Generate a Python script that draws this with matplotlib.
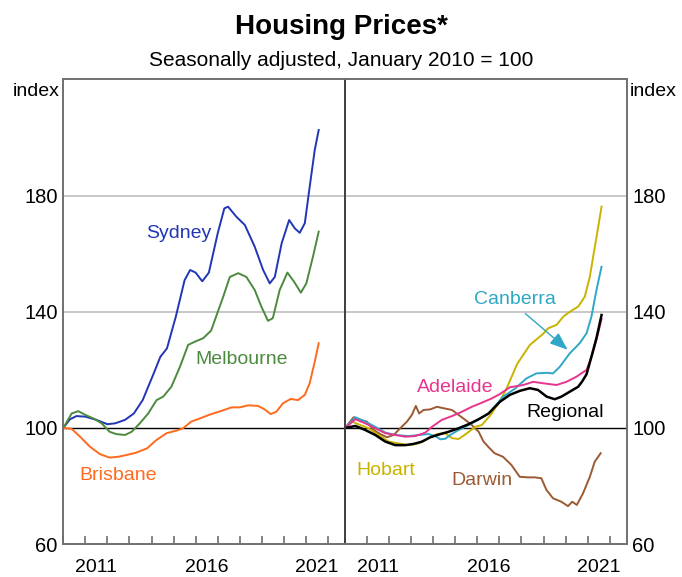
import matplotlib
matplotlib.use('Agg')
import matplotlib.pyplot as plt

plt.rcParams['font.family'] = ['Liberation Sans', 'DejaVu Sans']

# ---- data (index Jan 2010 = 100) ----
syd_x = [2010.0, 2010.3, 2010.6, 2011.0, 2011.5, 2012.0, 2012.35, 2012.8, 2013.2, 2013.6,
         2014.1, 2014.4, 2014.7, 2015.1, 2015.5, 2015.75, 2016.0, 2016.3, 2016.6, 2017.0,
         2017.3, 2017.47, 2017.85, 2018.23, 2018.68, 2019.06, 2019.36, 2019.59, 2019.9,
         2020.24, 2020.5, 2020.72, 2020.95, 2021.17, 2021.4, 2021.58]
syd_y = [100, 103, 104.1, 103.9, 102.8, 101.3, 101.6, 102.8, 105, 109.6,
         118.8, 124.5, 127.4, 138.3, 150.9, 154.4, 153.5, 150.5, 153.5, 167,
         175.6, 176.2, 172.7, 169.9, 162.4, 154.4, 149.8, 152, 163.6,
         171.6, 168.7, 167.2, 170.5, 183, 195.7, 202.6]

mel_x = [2010.0, 2010.38, 2010.68, 2011.0, 2011.36, 2011.74, 2012.1, 2012.4, 2012.8, 2013.1,
         2013.47, 2013.85, 2014.23, 2014.53, 2014.9, 2015.29, 2015.66, 2015.96, 2016.34, 2016.7,
         2017.25, 2017.55, 2017.93, 2018.3, 2018.68, 2018.98, 2019.28, 2019.5, 2019.81,
         2020.16, 2020.46, 2020.77, 2021.02, 2021.32, 2021.58]
mel_y = [100, 105, 105.8, 104.5, 103.3, 101.6, 98.7, 97.9, 97.6, 98.7,
         101.6, 105, 109.6, 110.8, 114.2, 121.1, 128.6, 129.7, 130.9, 133.5,
         145.2, 152, 153.3, 152, 147.5, 141.8, 136.9, 137.8, 147.5,
         153.5, 150.4, 146.6, 149.8, 159, 167.6]

bne_x = [2010.0, 2010.38, 2010.76, 2011.2, 2011.66, 2012.1, 2012.5, 2012.87, 2013.3, 2013.8,
         2014.23, 2014.68, 2015.13, 2015.43, 2015.8, 2016.2, 2016.6, 2017.17, 2017.63, 2018.0,
         2018.38, 2018.83, 2019.13, 2019.4, 2019.66, 2019.96, 2020.31, 2020.64, 2020.95,
         2021.17, 2021.4, 2021.58]
bne_y = [100, 99.7, 97, 93.6, 91, 89.8, 90.1, 90.7, 91.5, 93,
         95.9, 98.2, 99.1, 99.9, 102.2, 103.3, 104.5, 105.9, 107.1, 107.1,
         107.8, 107.6, 106.4, 104.8, 105.6, 108.5, 110, 109.6, 111.4,
         115.4, 122.8, 129.2]

reg_x = [2010.0, 2010.47, 2010.92, 2011.37, 2011.83, 2012.28, 2012.73, 2013.1, 2013.49, 2013.86,
         2014.32, 2014.7, 2015.15, 2015.6, 2016.06, 2016.51, 2017.02, 2017.47, 2017.93, 2018.38,
         2018.75, 2019.14, 2019.51, 2019.81, 2020.19, 2020.57, 2020.75, 2020.95, 2021.17,
         2021.4, 2021.63]
reg_y = [100, 100.7, 99.3, 97.6, 95.3, 94.1, 94.1, 94.5, 95.3, 96.8,
         97.9, 98.7, 99.9, 101.3, 103, 105, 109, 111.4, 112.8, 113.7,
         113.1, 110.8, 109.9, 110.8, 112.5, 114.2, 116, 118.5, 124.5,
         131, 138.9]

adl_x = [2010.0, 2010.47, 2010.92, 2011.37, 2011.83, 2012.28, 2012.73, 2013.18, 2013.64, 2013.94,
         2014.39, 2014.85, 2015.3, 2015.75, 2016.2, 2016.66, 2017.0, 2017.47, 2018.08, 2018.53,
         2018.98, 2019.59, 2020.04, 2020.5, 2020.95, 2021.2, 2021.42, 2021.63]
adl_y = [100, 103, 101.6, 99.9, 98.2, 97.6, 97, 97.2, 98.4, 100.4,
         102.8, 104.1, 105.6, 107.3, 108.7, 110.2, 111.6, 114, 114.8, 115.9,
         115.4, 114.8, 115.9, 117.7, 120, 125, 131, 137.5]

cbr_x = [2010.0, 2010.47, 2010.92, 2011.37, 2011.83, 2012.28, 2012.88, 2013.34, 2013.79, 2014.09,
         2014.32, 2014.55, 2014.77, 2015.15, 2015.6, 2016.06, 2016.51, 2017.17, 2017.7, 2018.23,
         2018.68, 2019.14, 2019.43, 2019.74, 2020.19, 2020.64, 2020.95, 2021.17, 2021.4, 2021.63]
cbr_y = [100, 103.7, 102.2, 100.4, 98.4, 97.6, 97.2, 97.6, 97.9, 97.2,
         96.1, 96.3, 97.6, 99.3, 101, 103, 105, 110.8, 113.5, 117.1,
         118.8, 119, 118.8, 121.1, 125.7, 129.2, 132.6, 138.3, 147.5, 155.5]

hob_x = [2010.0, 2010.32, 2010.69, 2011.07, 2011.52, 2011.98, 2012.43, 2012.88, 2013.34, 2013.79,
         2014.17, 2014.54, 2014.85, 2015.15, 2015.53, 2015.9, 2016.2, 2016.6, 2017.0, 2017.32,
         2017.8, 2018.38, 2018.98, 2019.2, 2019.59, 2019.89, 2020.19, 2020.57, 2020.87,
         2021.1, 2021.25, 2021.43, 2021.63]
hob_y = [100, 102.2, 101, 99.9, 97.6, 95.3, 94.7, 94.1, 94.7, 96.5,
         97.9, 98.2, 96.5, 96.2, 98.2, 100.4, 101, 104.5, 109, 113.5,
         122, 128.6, 132.4, 134.3, 135.5, 138.3, 140, 141.8, 145.2,
         152.1, 159, 167, 176.2]

drw_x = [2010.0, 2010.39, 2010.69, 2010.99, 2011.3, 2011.6, 2011.9, 2012.21, 2012.5, 2012.81,
         2013.03, 2013.21, 2013.36, 2013.56, 2013.86, 2014.17, 2014.47, 2014.85, 2015.15, 2015.45,
         2015.75, 2016.06, 2016.28, 2016.51, 2016.78, 2017.16, 2017.54, 2017.92, 2018.3, 2018.6,
         2018.9, 2019.13, 2019.43, 2019.81, 2020.11, 2020.3, 2020.51, 2020.79, 2021.1, 2021.32,
         2021.59]
drw_y = [100, 103.7, 102.8, 102.2, 99.3, 97.9, 96.8, 97.6, 99.9, 102.2,
         104.5, 107.6, 105, 106.2, 106.4, 107.3, 106.8, 106.2, 104.5, 102.8,
         101, 98.7, 95.3, 93.4, 91.3, 90.1, 87.3, 83.2, 83, 83,
         82.7, 78.7, 75.8, 74.6, 73.1, 74.6, 73.5, 77.5, 83.2, 88.4,
         91.3]

year_ticks = list(range(2010, 2023))
year_labels = ['2011', '2016', '2021']
y_ticks = [60, 100, 140, 180]

# ---- figure ----
fig = plt.figure(figsize=(6.82, 5.77), dpi=100)
axL = fig.add_axes([0.0928, 0.0569, 0.4130, 0.8054])
axR = fig.add_axes([0.5059, 0.0569, 0.4130, 0.8054])

spine_col = '#707070'
for ax in (axL, axR):
    ax.set_xlim(2010, 2022.77)
    ax.set_ylim(60, 220)
    for g in (140, 180):
        ax.axhline(g, color='#c4c4c4', lw=1.3, zorder=0)
    ax.axhline(100, color='black', lw=1.0, zorder=1)
    for s in ax.spines.values():
        s.set_color(spine_col)
        s.set_linewidth(1.4)
    ax.set_xticks(year_ticks)
    ax.set_xticklabels([])
    ax.set_xticks([2011.5, 2016.5, 2021.5], minor=True)
    ax.set_xticklabels(year_labels, minor=True, fontsize=14)
    ax.tick_params(axis='x', which='major', direction='in', length=6,
                   width=1.2, color=spine_col)
    ax.tick_params(axis='x', which='minor', length=0, pad=11)
    ax.set_yticks(y_ticks)
    ax.tick_params(axis='y', length=0, labelsize=14.5, pad=4)

axR.yaxis.tick_right()
axR.spines['left'].set_color('#404040')
axL.spines['right'].set_color('#404040')

lw = 1.4
# left panel
axL.plot(syd_x, syd_y, color='#2135b5', lw=lw)
axL.plot(mel_x, mel_y, color='#4c8a3e', lw=lw)
axL.plot(bne_x, bne_y, color='#ff6a1c', lw=lw)
axL.text(2015.24, 167.1, 'Sydney', color='#2135b5', fontsize=14, ha='center', va='center')
axL.text(2018.09, 123.7, 'Melbourne', color='#4c8a3e', fontsize=14, ha='center', va='center')
axL.text(2012.48, 83.8, 'Brisbane', color='#ff6a1c', fontsize=14, ha='center', va='center')

# right panel
axR.plot(drw_x, drw_y, color='#9b5a33', lw=lw)
axR.plot(hob_x, hob_y, color='#c9b300', lw=lw)
axR.plot(cbr_x, cbr_y, color='#2fa7c6', lw=lw)
axR.plot(adl_x, adl_y, color='#e8348e', lw=lw)
axR.plot(reg_x, reg_y, color='black', lw=1.8)
axR.text(2017.7, 144.4, 'Canberra', color='#2fa7c6', fontsize=14, ha='center', va='center')
axR.text(2014.98, 114.1, 'Adelaide', color='#e8348e', fontsize=14, ha='center', va='center')
axR.text(2019.96, 105.2, 'Regional', color='black', fontsize=14, ha='center', va='center')
axR.text(2011.86, 85.5, 'Hobart', color='#c9b300', fontsize=14, ha='center', va='center')
axR.text(2016.2, 81.8, 'Darwin', color='#9b5a33', fontsize=14, ha='center', va='center')
axR.annotate('', xy=(2020.19, 126.3), xytext=(2018.08, 140.0),
             arrowprops=dict(arrowstyle='-|>,head_length=1.1,head_width=0.42',
                             color='#2fa7c6', lw=1.0))

fig.text(0.0928 - 0.005, 1 - 92 / 577, 'index', fontsize=14, ha='right', va='center')
fig.text(0.919 + 0.005, 1 - 92 / 577, 'index', fontsize=14, ha='left', va='center')

fig.text(0.5, 1 - 27 / 577, 'Housing Prices*', fontsize=20, fontweight='bold',
         ha='center', va='center')
fig.text(0.5, 1 - 61 / 577, 'Seasonally adjusted, January 2010 = 100', fontsize=15,
         ha='center', va='center')

fig.savefig('out.png', dpi=100)
